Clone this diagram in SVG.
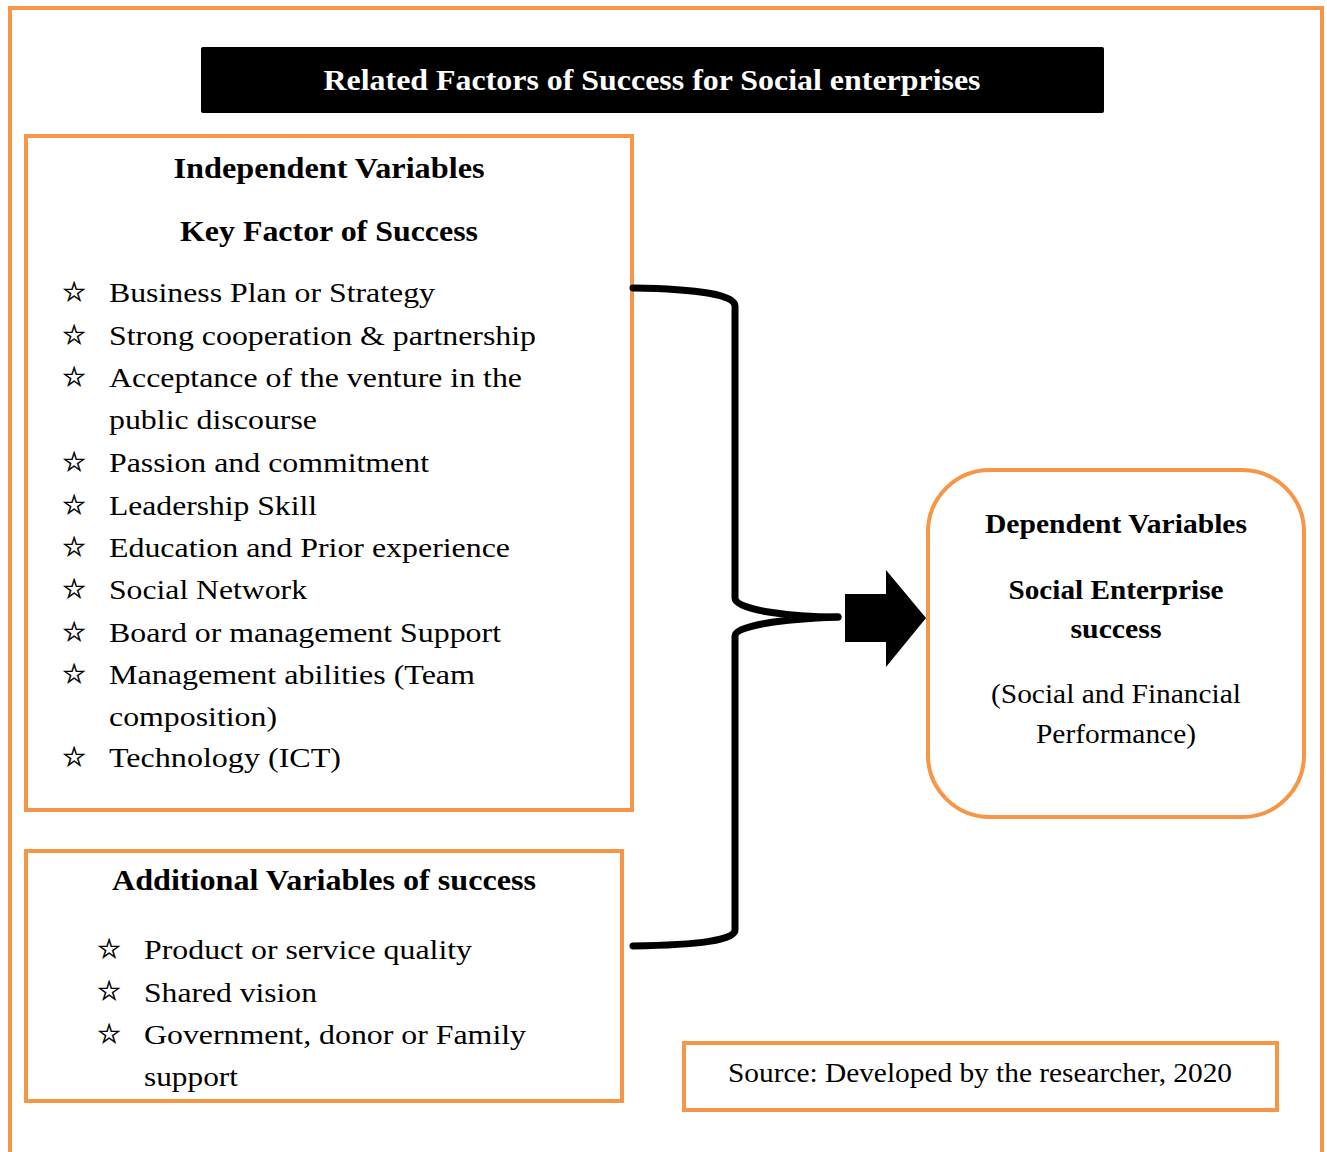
<svg xmlns="http://www.w3.org/2000/svg" width="1327" height="1152" viewBox="0 0 1327 1152">
<style>
.box{fill:#fff;stroke:#F79646;stroke-width:4}
.b{font-family:"Liberation Serif","Times New Roman",serif;font-weight:bold;fill:#000}
.r{font-family:"Liberation Serif","Times New Roman",serif;fill:#000}
.star{font-family:"DejaVu Sans",sans-serif;font-size:27px;fill:#000;stroke:#000;stroke-width:0.6}
.con{fill:none;stroke:#000;stroke-width:7;stroke-linecap:round;stroke-linejoin:round}
</style>
<rect x="0" y="0" width="1327" height="1152" fill="#fff"/>
<rect x="10" y="8" width="1312" height="1160" fill="none" stroke="#F79646" stroke-width="4"/>
<g id="title">
<rect x="201" y="47" width="903" height="66" rx="2" fill="#000"/>
<text x="652" y="90" text-anchor="middle" font-size="30" class="b" style="fill:#fff" textLength="657" lengthAdjust="spacingAndGlyphs">Related Factors of Success for Social enterprises</text>
</g>
<g id="independent">
<rect class="box" x="26" y="136" width="606" height="674"/>
<text class="b" x="329" y="178" text-anchor="middle" font-size="30" textLength="311" lengthAdjust="spacingAndGlyphs">Independent Variables</text>
<text class="b" x="329" y="241" text-anchor="middle" font-size="30" textLength="298" lengthAdjust="spacingAndGlyphs">Key Factor of Success</text>
<g class="star">
<text x="62" y="301">☆</text><text x="62" y="344">☆</text><text x="62" y="386">☆</text>
<text x="62" y="471">☆</text><text x="62" y="514">☆</text><text x="62" y="556">☆</text>
<text x="62" y="598">☆</text><text x="62" y="641">☆</text><text x="62" y="683">☆</text>
<text x="62" y="766">☆</text>
</g>
<g class="r" font-size="28">
<text x="109" y="302" textLength="326" lengthAdjust="spacingAndGlyphs">Business Plan or Strategy</text>
<text x="109" y="345" textLength="427" lengthAdjust="spacingAndGlyphs">Strong cooperation &amp; partnership</text>
<text x="109" y="387" textLength="413" lengthAdjust="spacingAndGlyphs">Acceptance of the venture in the</text>
<text x="109" y="429" textLength="208" lengthAdjust="spacingAndGlyphs">public discourse</text>
<text x="109" y="472" textLength="320" lengthAdjust="spacingAndGlyphs">Passion and commitment</text>
<text x="109" y="515" textLength="208" lengthAdjust="spacingAndGlyphs">Leadership Skill</text>
<text x="109" y="557" textLength="401" lengthAdjust="spacingAndGlyphs">Education and Prior experience</text>
<text x="109" y="599" textLength="198" lengthAdjust="spacingAndGlyphs">Social Network</text>
<text x="109" y="642" textLength="392" lengthAdjust="spacingAndGlyphs">Board or management Support</text>
<text x="109" y="684" textLength="366" lengthAdjust="spacingAndGlyphs">Management abilities (Team</text>
<text x="109" y="726" textLength="168" lengthAdjust="spacingAndGlyphs">composition)</text>
<text x="109" y="767" textLength="232" lengthAdjust="spacingAndGlyphs">Technology (ICT)</text>
</g>
</g>
<g id="additional">
<rect class="box" x="26" y="851" width="596" height="250"/>
<text class="b" x="324" y="890" text-anchor="middle" font-size="30" textLength="424" lengthAdjust="spacingAndGlyphs">Additional Variables of success</text>
<g class="star">
<text x="97" y="958">☆</text><text x="97" y="1000">☆</text><text x="97" y="1043">☆</text>
</g>
<g class="r" font-size="28">
<text x="144" y="959" textLength="328" lengthAdjust="spacingAndGlyphs">Product or service quality</text>
<text x="144" y="1002" textLength="173" lengthAdjust="spacingAndGlyphs">Shared vision</text>
<text x="144" y="1044" textLength="382" lengthAdjust="spacingAndGlyphs">Government, donor or Family</text>
<text x="144" y="1086" textLength="94" lengthAdjust="spacingAndGlyphs">support</text>
</g>
</g>
<g id="dependent">
<rect class="box" x="928" y="470" width="376" height="347" rx="62"/>
<text class="b" x="1116" y="533" text-anchor="middle" font-size="27" textLength="262" lengthAdjust="spacingAndGlyphs">Dependent Variables</text>
<text class="b" x="1116" y="599" text-anchor="middle" font-size="27" textLength="215" lengthAdjust="spacingAndGlyphs">Social Enterprise</text>
<text class="b" x="1116" y="638" text-anchor="middle" font-size="27" textLength="91" lengthAdjust="spacingAndGlyphs">success</text>
<text class="r" x="1116" y="703" text-anchor="middle" font-size="27" textLength="250" lengthAdjust="spacingAndGlyphs">(Social and Financial</text>
<text class="r" x="1116" y="743" text-anchor="middle" font-size="27" textLength="160" lengthAdjust="spacingAndGlyphs">Performance)</text>
</g>
<g id="source">
<rect class="box" x="684" y="1043" width="593" height="67"/>
<text class="r" x="980" y="1082" text-anchor="middle" font-size="27" textLength="504" lengthAdjust="spacingAndGlyphs">Source: Developed by the researcher, 2020</text>
</g>
<g id="connectors">
<path class="con" d="M633,288 C700,289 735,295 735,306 L735,598 C735,610 790,617 838,617"/>
<path class="con" d="M633,946 C700,945 735,940 735,930 L735,636 C735,626 780,619 838,617"/>
<path d="M845,594 L886,594 L886,570 L926,618 L886,667 L886,642 L845,642 Z" fill="#000"/>
</g>
</svg>
